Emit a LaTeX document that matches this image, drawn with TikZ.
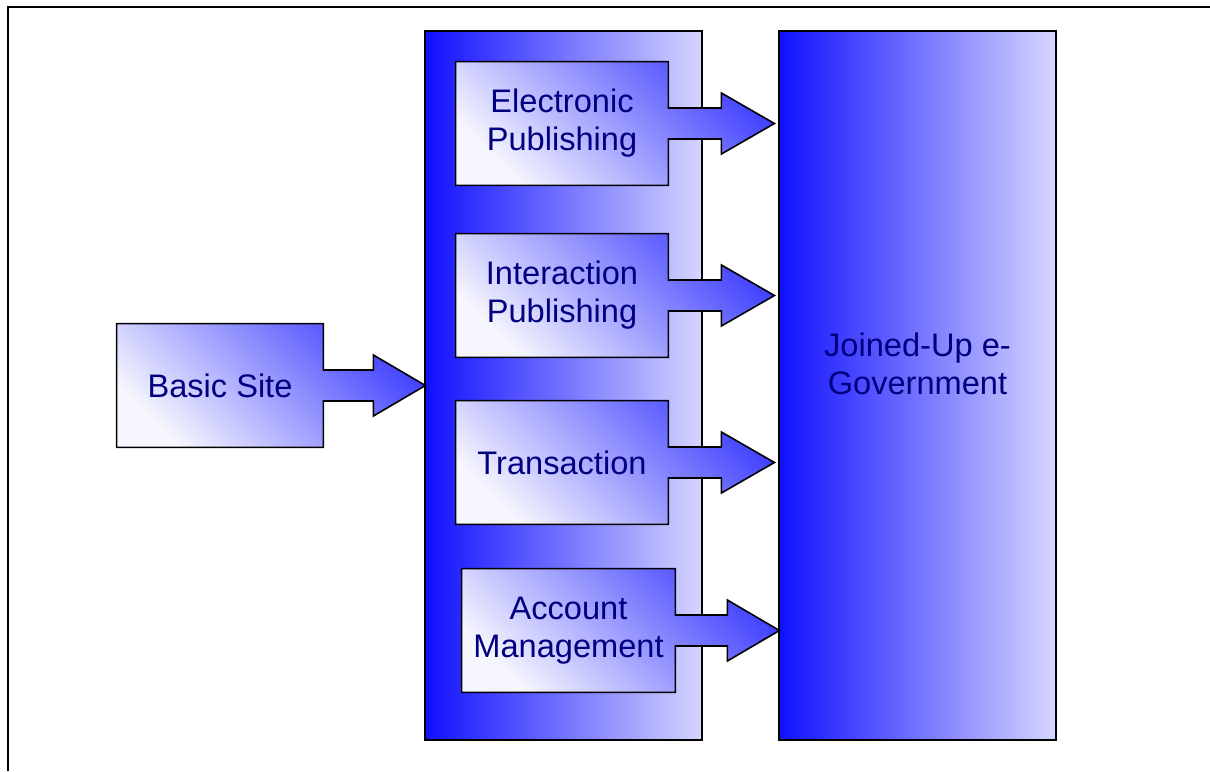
\documentclass[tikz,border=0pt]{standalone}
\usepackage{fontspec}
\setmainfont{Liberation Sans}
\usepackage{tikz}
\usetikzlibrary{positioning}
\pgfdeclarelayer{back}
\pgfdeclarelayer{mid}
\pgfsetlayers{back,mid,main}
\definecolor{deepblue}{RGB}{16,16,255}
\definecolor{halfblue}{RGB}{150,150,255}
\definecolor{paleblue}{RGB}{214,214,255}
\definecolor{boxblue}{RGB}{66,66,255}
\definecolor{boxpale}{RGB}{246,246,255}
\definecolor{labelnavy}{RGB}{0,0,128}
\tikzstyle{column} = [rectangle, draw, line width=0.8pt, minimum width=138.5pt,
                      minimum height=354.5pt, inner sep=0pt,
                      left color=deepblue, middle color=halfblue, right color=paleblue]
\tikzstyle{stage}  = [rectangle, minimum width=106pt, minimum height=61.5pt,
                      inner sep=0pt, text=labelnavy, align=center,
                      font=\fontsize{16.3}{19}\selectfont]
\tikzstyle{stageshape} = [draw, line width=0.8pt, line join=miter,
                      top color=boxblue, bottom color=boxpale, shading angle=-45]
\tikzstyle{title}  = [text=labelnavy, align=center, font=\fontsize{16.3}{19}\selectfont]
\tikzstyle{frame}  = [line width=1pt]
% box outline of a stage node with its arrow: node, shaft length, head length
\newcommand{\stagearrow}[3]{
  \begin{pgfonlayer}{mid}
    \draw[stageshape] (#1.north west) -- (#1.north east) -- ([yshift=7.75pt]#1.east)
      -- ++(#2,0) -- ++(0,7.5pt) -- ++(#3,-15.25pt) -- ++(-#3,-15.25pt) -- ++(0,7.5pt)
      -- ([yshift=-7.75pt]#1.east) -- (#1.south east) -- (#1.south west) -- cycle;
  \end{pgfonlayer}
}

\begin{document}
\begin{tikzpicture}[x=0.5pt, y=-0.5pt]
	\useasboundingbox (0,0) rectangle (1210,771);
	\draw[frame] (8,771) -- (8,7) -- (1210,7);

	\begin{pgfonlayer}{back}
		\node[column] (hub) at (563.5,385.5) {};
		\node[column] (jug) at (917.5,385.5) {};
	\end{pgfonlayer}
	\node[title] (jugtext) at ([yshift=10.75pt]jug.center) {Joined-Up e-\\Government};

	\node[stage, minimum width=103pt] (site) at (220,385.5) {Basic Site};
	\node[stage] (epub) at (562,123.5) {Electronic\\Publishing};
	\node[stage] (ipub) at (562,295.5) {Interaction\\Publishing};
	\node[stage] (trans) at (562,462.5) {Transaction};
	\node[stage, minimum width=106.5pt] (acct) at (568.5,630.5) {Account\\Management};

	\stagearrow{site}{25pt}{26pt}
	\stagearrow{epub}{26.5pt}{26.5pt}
	\stagearrow{ipub}{26.5pt}{26.5pt}
	\stagearrow{trans}{26.5pt}{26.5pt}
	\stagearrow{acct}{26pt}{26pt}
\end{tikzpicture}
\end{document}
